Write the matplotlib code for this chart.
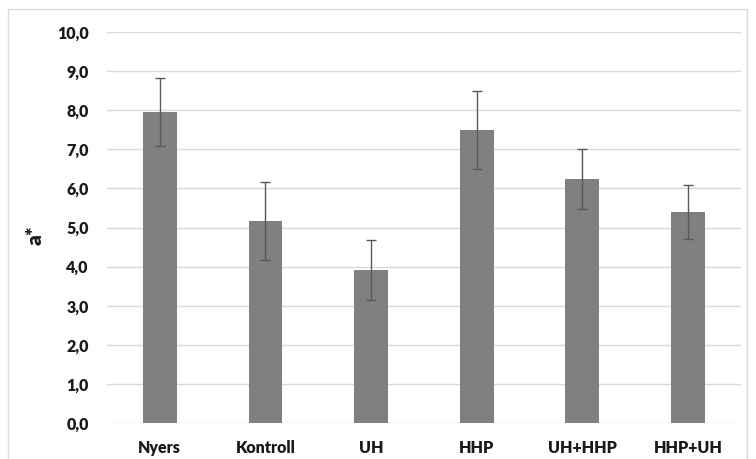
import matplotlib
matplotlib.use("Agg")
import matplotlib.pyplot as plt
from matplotlib.patches import Rectangle
from matplotlib.ticker import FuncFormatter

# data
categories = ["Nyers", "Kontroll", "UH", "HHP", "UH+HHP", "HHP+UH"]
values = [7.95, 5.17, 3.91, 7.49, 6.24, 5.40]
errors = [0.87, 1.0, 0.76, 1.0, 0.76, 0.70]

plt.rcParams['font.family'] = ['Lato', 'DejaVu Sans']

fig = plt.figure(figsize=(7.56, 4.59), dpi=100)
ax = fig.add_axes([0.1415, 0.0784, 0.8385, 0.8516])

# outer chart frame
fig.patches.append(Rectangle((8 / 756, -0.05), 739 / 756, 1.05 - 9 / 459,
                             transform=fig.transFigure, fill=False,
                             edgecolor="#d9d9d9", linewidth=1))

x = range(len(categories))
ax.bar(x, values, width=0.32, color="#808080", zorder=3)
ax.errorbar(x, values, yerr=errors, fmt="none", ecolor="#595959",
            elinewidth=1, capsize=3.6, capthick=1, zorder=4)

ax.set_xlim(-0.5, len(categories) - 0.5)
ax.set_ylim(0, 10)
ax.set_yticks(range(0, 11))
ax.yaxis.set_major_formatter(FuncFormatter(lambda v, p: f"{v:.1f}".replace(".", ",")))
ax.set_xticks(list(x))
ax.set_xticklabels(categories)

ax.grid(axis="y", color="#d9d9d9", linewidth=1, zorder=0)
for s in ax.spines.values():
    s.set_visible(False)
ax.tick_params(axis="both", length=0, labelsize=11.5, colors="#1a1a1a")
ax.tick_params(axis="y", pad=13)
ax.tick_params(axis="x", pad=12)
for lab in ax.get_xticklabels() + ax.get_yticklabels():
    lab.set_fontweight("heavy")

fig.text(35 / 756, 1 - 235 / 459, "a*", rotation=90, fontsize=15,
         fontweight="heavy", ha="center", va="center", color="#1a1a1a")

fig.savefig("out.png", dpi=100)
